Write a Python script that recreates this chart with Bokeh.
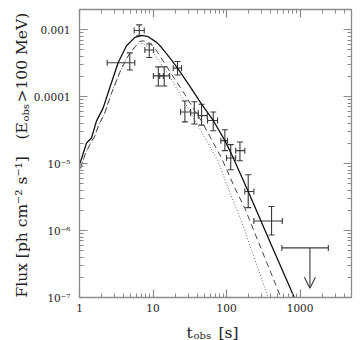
import numpy as np
from bokeh.plotting import figure
from bokeh.layouts import row, column
from bokeh.models import (LogAxis, FixedTicker, ColumnDataSource, Whisker, TeeHead,
                          Arrow, OpenHead, Label, Range1d)
from bokeh.embed import file_html
from bokeh.resources import INLINE

# ---- measured data points ----
t_obs = [4.83, 6.49, 8.88, 11.8, 14.2, 21.5, 27.1, 36.4, 45.7, 65.9, 94.8, 114, 152, 197, 409]
t_lo = [2.38, 5.55, 7.74, 10.1, 12.3, 18.8, 23.7, 32.4, 41.2, 55.1, 83.6, 100, 133, 177, 235]
t_hi = [5.65, 7.59, 10.2, 13.8, 16.8, 24.4, 32.4, 41.2, 54.6, 75.4, 103, 133, 177, 235, 572]
flux = [3.2e-4, 9.7e-4, 4.96e-4, 2.04e-4, 2.04e-4, 2.66e-4, 5.9e-5, 5.7e-5, 5.2e-5, 4.4e-5,
        2.2e-5, 1.21e-5, 1.56e-5, 3.83e-6, 1.39e-6]
flux_lo = [2.5e-4, 8.1e-4, 3.84e-4, 1.44e-4, 1.44e-4, 2.1e-4, 4.2e-5, 3.9e-5, 3.75e-5, 3.1e-5,
           1.56e-5, 8.1e-6, 1.1e-5, 2.2e-6, 8.6e-7]
flux_hi = [4.5e-4, 1.18e-3, 6.1e-4, 2.78e-4, 2.78e-4, 3.34e-4, 8.6e-5, 8.4e-5, 7.7e-5, 5.9e-5,
           3.2e-5, 1.92e-5, 2.1e-5, 6.8e-6, 2.28e-6]

# upper limit
ul_t = [1360]
ul_t_lo = [565]
ul_t_hi = [2420]
ul_flux = [5.5e-7]
ul_tip = [1.38e-7]

# ---- model curves ----
solid_t = [1.0, 1.245, 1.456, 1.70, 2.10, 2.58, 3.36, 4.36, 5.65, 6.98, 8.6, 11.2, 13.1,
           17.9, 21.5, 30, 45.7, 65.9, 95, 120, 197, 409, 870]
solid_f = [9.5e-6, 2.03e-5, 2.41e-5, 4.3e-5, 6.8e-5, 1.36e-4, 3.23e-4, 5.75e-4, 7.66e-4,
           8.2e-4, 7.85e-4, 6.45e-4, 5.4e-4, 3.5e-4, 2.66e-4, 1.56e-4, 7.7e-5, 4.4e-5,
           2.2e-5, 1.3e-5, 3.83e-6, 6.0e-7, 9.0e-8]

dashed_t = [1.03, 1.2, 1.456, 1.6, 1.8, 2.21, 2.7, 3.53, 4.3, 5.1, 6.6, 7.5, 9.0, 10.6,
            17.9, 27.1, 37, 45.7, 85.5, 130, 177, 570]
dashed_f = [8.5e-6, 1.4e-5, 2.15e-5, 2.5e-5, 3.6e-5, 5.7e-5, 1.1e-4, 2.3e-4, 3.6e-4, 4.84e-4,
            6.7e-4, 6.8e-4, 6.3e-4, 5.3e-4, 2.16e-4, 1.08e-4, 6.1e-5, 4.3e-5, 1.21e-5,
            4.3e-6, 2.15e-6, 9.0e-8]

dotted_t = [1.03, 1.2, 1.456, 1.6, 1.8, 2.21, 2.7, 3.53, 4.3, 5.1, 6.5, 7.5, 9.5, 12, 16.9,
            45.7, 77, 105, 160, 380]
dotted_f = [8.5e-6, 1.4e-5, 2.15e-5, 2.5e-5, 3.6e-5, 5.7e-5, 1.1e-4, 2.3e-4, 3.6e-4, 4.8e-4,
            6.3e-4, 6.1e-4, 5.0e-4, 3.45e-4, 2.0e-4, 3.0e-5, 1.08e-5, 4.3e-6, 1.36e-6, 9.0e-8]

# ---- ticks ----
x_ticks = [1, 10, 100, 1000]
x_tick_labels = ["1", "10", "100", "1000"]
x_minor = [m * 10 ** e for e in range(0, 4) for m in range(2, 10)]
y_ticks = [1e-7, 1e-6, 1e-5, 1e-4, 1e-3]
y_tick_labels = ["10\u207b\u2077", "10\u207b\u2076", "10\u207b\u2075", "0.0001", "0.001"]
y_minor = [m * 10.0 ** e for e in range(-7, -2) for m in range(2, 10)]

FONT = "DejaVu Serif"
AX = "#8a8a8a"
BAR = "#3a3a3a"
TXT = "#222222"

YLAB_W = 30
MAIN_W = 333
MAIN_H = 316
XLAB_H = 24

p = figure(frame_width=272, frame_height=288, x_axis_type="log", y_axis_type="log",
           x_range=Range1d(1, 5000), y_range=Range1d(1e-7, 2.0e-3),
           output_backend="svg", toolbar_location=None,
           min_border_left=48, min_border_right=13, min_border_top=9, min_border_bottom=19)
p.outline_line_color = None
p.grid.visible = False
p.background_fill_color = "white"
p.align = "start"

xt = FixedTicker(ticks=x_ticks, minor_ticks=x_minor)
yt = FixedTicker(ticks=y_ticks, minor_ticks=y_minor)


def style_axis(ax, ticker, ticks, labels):
    ax.ticker = ticker
    ax.axis_line_color = AX
    ax.axis_line_width = 1.3
    ax.major_tick_line_color = AX
    ax.minor_tick_line_color = AX
    ax.major_tick_in = 8
    ax.major_tick_out = 0
    ax.minor_tick_in = 4
    ax.minor_tick_out = 0
    ax.major_tick_line_width = 1.2
    ax.minor_tick_line_width = 1.0
    ax.major_label_text_font = FONT
    ax.major_label_text_color = TXT
    if labels is not None:
        ax.major_label_text_font_size = "10.5px"
        ax.major_label_overrides = {t: l for t, l in zip(ticks, labels)}
    else:
        ax.major_label_overrides = {t: " " for t in ticks}
        ax.major_label_text_font_size = "1px"
        ax.major_label_text_alpha = 0
        ax.major_label_standoff = 0


style_axis(p.xaxis[0], xt, x_ticks, x_tick_labels)
p.xaxis[0].major_label_standoff = 6
style_axis(p.yaxis[0], yt, y_ticks, y_tick_labels)
p.yaxis[0].major_label_standoff = 9

top = LogAxis()
style_axis(top, xt, x_ticks, None)
p.add_layout(top, "above")
right = LogAxis()
style_axis(right, yt, y_ticks, None)
p.add_layout(right, "right")

# ---- curves ----
p.line(dotted_t, dotted_f, line_color="#666666", line_width=1.0, line_dash="1 2")
p.line(dashed_t, dashed_f, line_color="#444444", line_width=1.0, line_dash="6 4")
p.line(solid_t, solid_f, line_color="#111111", line_width=1.3)

# ---- data points ----
src = ColumnDataSource(dict(t=t_obs, tlo=t_lo, thi=t_hi, f=flux, flo=flux_lo, fhi=flux_hi))
p.add_layout(Whisker(source=src, base="t", lower="flo", upper="fhi", dimension="height",
                     line_color=BAR, line_width=1.1,
                     lower_head=TeeHead(size=6, line_color=BAR, line_width=1.1),
                     upper_head=TeeHead(size=6, line_color=BAR, line_width=1.1)))
p.add_layout(Whisker(source=src, base="f", lower="tlo", upper="thi", dimension="width",
                     line_color=BAR, line_width=1.1,
                     lower_head=TeeHead(size=6, line_color=BAR, line_width=1.1),
                     upper_head=TeeHead(size=6, line_color=BAR, line_width=1.1)))

usrc = ColumnDataSource(dict(t=ul_t, tlo=ul_t_lo, thi=ul_t_hi, f=ul_flux, tip=ul_tip))
p.add_layout(Whisker(source=usrc, base="f", lower="tlo", upper="thi", dimension="width",
                     line_color=BAR, line_width=1.1,
                     lower_head=TeeHead(size=6, line_color=BAR, line_width=1.1),
                     upper_head=TeeHead(size=6, line_color=BAR, line_width=1.1)))
p.add_layout(Arrow(source=usrc, x_start="t", y_start="f", x_end="t", y_end="tip",
                   line_color=BAR, line_width=1.1,
                   end=OpenHead(size=11, line_color=BAR, line_width=1.1)))


# ---- axis title panels (their frames fill the whole panel) ----
def blank(w, h):
    f = figure(width=w, height=h, x_range=Range1d(0, 1), y_range=Range1d(0, 1),
               x_axis_location=None, y_axis_location=None, min_border=0,
               min_border_left=0, min_border_right=0, min_border_top=0,
               min_border_bottom=0, title=None,
               output_backend="svg", toolbar_location=None)
    f.outline_line_color = None
    f.grid.visible = False
    f.align = "start"
    return f


def lab(fig, text, x, y, size, angle=0.0):
    fig.add_layout(Label(x=x, y=y, x_units="screen", y_units="screen", text=text,
                         angle=angle, text_font=FONT, text_font_size=size,
                         text_color=TXT, text_align="left", text_baseline="alphabetic"))


ylab = blank(YLAB_W, MAIN_H)
A = np.pi / 2
lab(ylab, "Flux [ph cm\u207b\u00b2 s\u207b\u00b9]", 21, 19, "15.5px", A)
lab(ylab, "(E", 21, 177, "15.5px", A)
lab(ylab, "obs", 25, 195, "10px", A)
lab(ylab, ">100 MeV)", 21, 214, "15.5px", A)

xlab = blank(MAIN_W, XLAB_H)
lab(xlab, "t", 107, 8, "15.5px")
lab(xlab, "obs", 114, 5, "10px")
lab(xlab, "[s]", 139, 8, "15.5px")

col = column(p, xlab, spacing=0)
col.align = "start"
layout = row(ylab, col, spacing=0)

open("out.html", "w").write(file_html(layout, INLINE))
